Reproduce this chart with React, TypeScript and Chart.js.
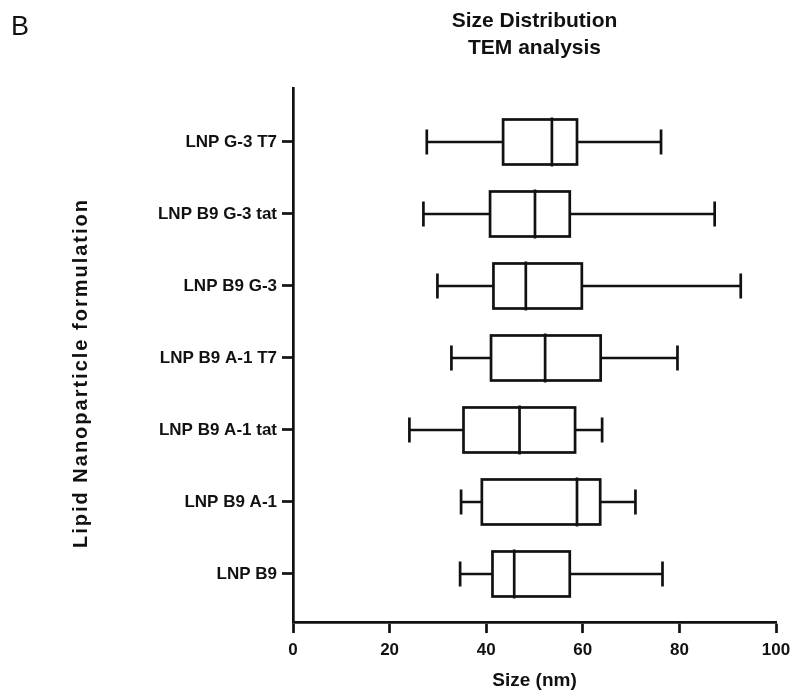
import React, { useEffect, useRef } from 'react';
import { Chart, registerables } from 'chart.js';

Chart.register(...registerables);

// Categories from bottom (index 0) to top (index 6)
const categories = [
  'LNP B9',
  'LNP B9 A-1',
  'LNP B9 A-1 tat',
  'LNP B9 A-1 T7',
  'LNP B9 G-3',
  'LNP B9 G-3 tat',
  'LNP G-3 T7',
];
const whiskerMin = [34.6, 34.8, 24.1, 32.8, 29.9, 27.0, 27.7];
const q1 = [41.3, 39.1, 35.3, 41.0, 41.5, 40.8, 43.5];
const median = [45.8, 58.8, 46.9, 52.2, 48.2, 50.1, 53.6];
const q3 = [57.3, 63.6, 58.4, 63.7, 59.8, 57.3, 58.8];
const whiskerMax = [76.5, 70.9, 64.0, 79.6, 92.7, 87.3, 76.2];
const xTicks = [0, 20, 40, 60, 80, 100];

const panelLabel = 'B';
const titleLines = ['Size Distribution', 'TEM analysis'];
const xTitle = 'Size (nm)';
const yTitle = 'Lipid Nanoparticle formulation';

const INK = '#111111';
const FONT = "'Liberation Sans', Arial, Helvetica, sans-serif";

const boxPlugin = {
  id: 'boxPlot',
  afterDatasetsDraw(chart: any) {
    const { ctx, scales } = chart;
    const xs = scales.x;
    const ys = scales.y;
    const boxHalf = 22.5;
    const capHalf = 12.5;
    ctx.save();
    ctx.strokeStyle = INK;
    ctx.lineWidth = 2.7;
    ctx.lineCap = 'butt';
    categories.forEach((_, i) => {
      const y = ys.getPixelForValue(i);
      const xMin = xs.getPixelForValue(whiskerMin[i]);
      const xQ1 = xs.getPixelForValue(q1[i]);
      const xMed = xs.getPixelForValue(median[i]);
      const xQ3 = xs.getPixelForValue(q3[i]);
      const xMax = xs.getPixelForValue(whiskerMax[i]);
      ctx.beginPath();
      ctx.moveTo(xMin, y);
      ctx.lineTo(xQ1, y);
      ctx.moveTo(xQ3, y);
      ctx.lineTo(xMax, y);
      ctx.moveTo(xMin, y - capHalf);
      ctx.lineTo(xMin, y + capHalf);
      ctx.moveTo(xMax, y - capHalf);
      ctx.lineTo(xMax, y + capHalf);
      ctx.stroke();
      ctx.fillStyle = '#ffffff';
      ctx.fillRect(xQ1, y - boxHalf, xQ3 - xQ1, boxHalf * 2);
      ctx.strokeRect(xQ1, y - boxHalf, xQ3 - xQ1, boxHalf * 2);
      ctx.beginPath();
      ctx.moveTo(xMed, y - boxHalf - 2);
      ctx.lineTo(xMed, y + boxHalf + 2);
      ctx.stroke();
    });
    ctx.restore();
  },
  afterDraw(chart: any) {
    const { ctx, chartArea } = chart;
    const cx = (chartArea.left + chartArea.right) / 2;
    ctx.save();
    ctx.fillStyle = INK;
    ctx.font = `normal 27px ${FONT}`;
    ctx.textAlign = 'left';
    ctx.textBaseline = 'middle';
    ctx.fillText(panelLabel, 11, 28);
    ctx.font = `bold 21px ${FONT}`;
    ctx.textAlign = 'center';
    ctx.fillText(titleLines[0], cx, 21);
    ctx.fillText(titleLines[1], cx, 48);
    ctx.font = `bold 19px ${FONT}`;
    ctx.fillText(xTitle, cx, 681);
    ctx.translate(81, 373);
    ctx.rotate(-Math.PI / 2);
    ctx.font = `bold 20px ${FONT}`;
    (ctx as any).letterSpacing = '2px';
    ctx.fillText(yTitle, 0, 0);
    ctx.restore();
  },
};

export default function App() {
  const ref = useRef<HTMLCanvasElement | null>(null);
  useEffect(() => {
    if (!ref.current) return;
    const chart = new Chart(ref.current, {
      type: 'scatter',
      data: {
        datasets: [
          {
            data: categories.map((_, i) => ({ x: median[i], y: i })),
            pointRadius: 0,
            showLine: false,
          },
        ],
      },
      options: {
        animation: false,
        responsive: false,
        events: [],
        layout: { padding: { left: 0, top: 88, right: 16, bottom: 0 } },
        plugins: {
          legend: { display: false },
          tooltip: { enabled: false },
          title: { display: false },
        },
        scales: {
          x: {
            type: 'linear',
            min: 0,
            max: 100,
            afterBuildTicks: (axis: any) => {
              axis.ticks = xTicks.map((v) => ({ value: v }));
            },
            afterFit: (s: any) => {
              s.height = 72;
              s.paddingLeft = 0;
              s.paddingRight = 0;
            },
            grid: {
              drawOnChartArea: false,
              drawTicks: true,
              tickLength: 11,
              tickColor: INK,
              tickWidth: 2.7,
            },
            border: { display: true, color: INK, width: 2.7 },
            ticks: {
              color: INK,
              padding: 7,
              maxRotation: 0,
              font: { family: FONT, size: 17, weight: 'bold' },
            },
          },
          y: {
            type: 'linear',
            min: -0.667,
            max: 6.75,
            afterBuildTicks: (axis: any) => {
              axis.ticks = categories.map((_, i) => ({ value: i }));
            },
            afterFit: (s: any) => {
              s.width = 293;
              s.paddingTop = 0;
              s.paddingBottom = 0;
            },
            grid: {
              drawOnChartArea: false,
              drawTicks: true,
              tickLength: 11,
              tickColor: INK,
              tickWidth: 2.7,
            },
            border: { display: true, color: INK, width: 2.7 },
            ticks: {
              color: INK,
              padding: 5,
              font: { family: FONT, size: 17, weight: 'bold' },
              callback: (v: any) => categories[Math.round(Number(v))] ?? '',
            },
          },
        },
      },
      plugins: [boxPlugin],
    } as any);
    return () => chart.destroy();
  }, []);

  return (
    <div style={{ position: 'absolute', left: 0, top: 0, width: 792, height: 694, background: '#ffffff' }}>
      <canvas ref={ref} width={792} height={694} style={{ display: 'block', width: 792, height: 694 }} />
    </div>
  );
}
